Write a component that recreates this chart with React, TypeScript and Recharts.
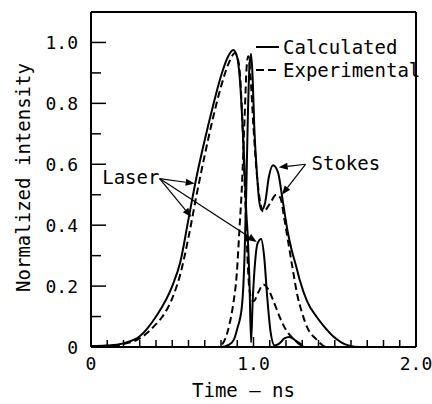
import React from "react";
import {
  LineChart, Line, XAxis, YAxis, ReferenceLine, ReferenceDot, Legend,
} from "recharts";

const FONT = "'DejaVu Sans Mono', monospace";

// time (ns) and normalized intensity
const laserCalcT = [0, 0.1, 0.2, 0.3, 0.4, 0.5, 0.55, 0.6, 0.65, 0.7, 0.75, 0.8, 0.84, 0.876, 0.9, 0.92, 0.935, 0.945, 0.955, 0.966, 0.975, 0.985, 0.995, 1.01, 1.025, 1.047, 1.065, 1.085, 1.105, 1.13, 1.16, 1.19, 1.22, 1.25, 1.28, 1.32, 2.0];
const laserCalcI = [0.003, 0.005, 0.012, 0.035, 0.1, 0.2, 0.28, 0.42, 0.56, 0.68, 0.79, 0.89, 0.95, 0.975, 0.95, 0.85, 0.7, 0.59, 0.45, 0.35, 0.22, 0.015, 0.15, 0.28, 0.34, 0.355, 0.3, 0.16, 0.05, 0.005, 0.012, 0.028, 0.033, 0.025, 0.01, 0, 0];

const laserExpT = [0, 0.1, 0.2, 0.3, 0.4, 0.44, 0.5, 0.55, 0.6, 0.65, 0.7, 0.75, 0.8, 0.85, 0.885, 0.91, 0.925, 0.94, 0.955, 0.97, 0.985, 1.0, 1.03, 1.06, 1.09, 1.12, 1.16, 1.2, 1.24, 1.28, 1.33, 2.0];
const laserExpI = [0.003, 0.004, 0.01, 0.028, 0.075, 0.1, 0.16, 0.24, 0.36, 0.5, 0.63, 0.75, 0.855, 0.935, 0.965, 0.93, 0.82, 0.62, 0.4, 0.22, 0.16, 0.15, 0.18, 0.205, 0.19, 0.155, 0.1, 0.056, 0.03, 0.014, 0, 0];

const stokesCalcT = [0, 0.8, 0.85, 0.88, 0.9, 0.928, 0.945, 0.955, 0.965, 0.975, 0.985, 0.995, 1.005, 1.02, 1.035, 1.05, 1.07, 1.095, 1.12, 1.15, 1.18, 1.21, 1.234, 1.26, 1.284, 1.33, 1.387, 1.43, 1.49, 1.54, 1.59, 1.65, 2.0];
const stokesCalcI = [0, 0, 0.008, 0.025, 0.06, 0.13, 0.3, 0.5, 0.75, 0.92, 0.963, 0.88, 0.72, 0.58, 0.48, 0.45, 0.47, 0.56, 0.597, 0.575, 0.48, 0.38, 0.32, 0.27, 0.221, 0.15, 0.1, 0.07, 0.035, 0.015, 0.004, 0, 0];

const stokesExpT = [0, 0.78, 0.82, 0.85, 0.875, 0.897, 0.915, 0.928, 0.945, 0.958, 0.968, 0.98, 1.0, 1.02, 1.04, 1.06, 1.1, 1.14, 1.165, 1.19, 1.215, 1.24, 1.27, 1.3, 1.33, 1.387, 1.45, 2.0];
const stokesExpI = [0, 0, 0.02, 0.07, 0.14, 0.24, 0.4, 0.52, 0.75, 0.92, 0.955, 0.9, 0.72, 0.57, 0.48, 0.444, 0.47, 0.5, 0.49, 0.42, 0.34, 0.26, 0.17, 0.11, 0.065, 0.025, 0, 0];

const xTicks = [0, 0.1, 0.2, 0.3, 0.4, 0.5, 0.6, 0.7, 0.8, 0.9, 1.0, 1.1, 1.2, 1.3, 1.4, 1.5, 1.6, 1.7, 1.8, 1.9, 2.0];
const yTicks = [0, 0.1, 0.2, 0.3, 0.4, 0.5, 0.6, 0.7, 0.8, 0.9, 1.0];

const legendItems = [
  { label: "Calculated", dash: undefined as string | undefined },
  { label: "Experimental", dash: "8 4" },
];

// annotation labels and arrows, in data units
const notes = [
  { text: "Laser", t: 0.069, v: 0.556 },
  { text: "Stokes", t: 1.357, v: 0.603 },
];
const arrows = [
  { from: [0.422, 0.553], to: [0.638, 0.537] },
  { from: [0.422, 0.553], to: [0.617, 0.427] },
  { from: [0.422, 0.553], to: [1.02, 0.345] },
  { from: [1.32, 0.6], to: [1.155, 0.59] },
  { from: [1.32, 0.6], to: [1.175, 0.5] },
];

const zip = (t: number[], v: number[]) => t.map((x, i) => ({ t: x, v: v[i] }));

const series = [
  { key: "lc", data: zip(laserCalcT, laserCalcI), dash: undefined },
  { key: "le", data: zip(laserExpT, laserExpI), dash: "7 4" },
  { key: "sc", data: zip(stokesCalcT, stokesCalcI), dash: undefined },
  { key: "se", data: zip(stokesExpT, stokesExpI), dash: "7 4" },
];

const isWhole = (v: number) => Math.abs(v - Math.round(v)) < 1e-6;
const isEvenTenth = (v: number) => Math.round(v * 10) % 2 === 0;

function BottomTick({ x, y, payload }: any) {
  const v = payload.value;
  const len = isWhole(v) ? 10 : 7;
  return (
    <g>
      <line x1={x} y1={y} x2={x} y2={y - len} stroke="#000" strokeWidth={1.5} />
      {isWhole(v) && (
        <text x={x} y={y + 23} textAnchor="middle" fontSize={18} fontFamily={FONT} fill="#000">
          {v === 0 ? "0" : v.toFixed(1)}
        </text>
      )}
    </g>
  );
}

function TopTick({ x, y, payload }: any) {
  const len = isWhole(payload.value) ? 10 : 7;
  return <line x1={x} y1={y} x2={x} y2={y + len} stroke="#000" strokeWidth={1.5} />;
}

function LeftTick({ x, y, payload }: any) {
  const v = payload.value;
  const major = isEvenTenth(v);
  return (
    <g>
      <line x1={x} y1={y} x2={x + (major ? 15 : 10)} y2={y} stroke="#000" strokeWidth={1.5} />
      {major && (
        <text x={x - 13} y={y + 7} textAnchor="end" fontSize={18} fontFamily={FONT} fill="#000">
          {v === 0 ? "0" : v.toFixed(1)}
        </text>
      )}
    </g>
  );
}

function RightTick({ x, y, payload }: any) {
  const major = isEvenTenth(payload.value);
  return <line x1={x} y1={y} x2={x - (major ? 14 : 10)} y2={y} stroke="#000" strokeWidth={1.5} />;
}

function XTitle({ viewBox }: any) {
  return (
    <text x={viewBox.x + viewBox.width / 2 - 10} y={viewBox.y + viewBox.height - 7}
      textAnchor="middle" fontSize={19} fontFamily={FONT} fill="#000">
      Time — ns
    </text>
  );
}

function YTitle({ viewBox }: any) {
  const cx = viewBox.x + 23;
  const cy = viewBox.y + viewBox.height / 2 - 2;
  return (
    <text x={cx} y={cy} transform={`rotate(-90, ${cx}, ${cy})`} textAnchor="middle"
      dominantBaseline="central" fontSize={19} fontFamily={FONT} fill="#000">
      Normalized intensity
    </text>
  );
}

function Arrow(p: any) {
  const { x1, y1, x2, y2 } = p;
  const a = Math.atan2(y2 - y1, x2 - x1);
  const L = 9, W = 3.5;
  const bx = x2 - L * Math.cos(a), by = y2 - L * Math.sin(a);
  const px = -Math.sin(a) * W, py = Math.cos(a) * W;
  return (
    <g>
      <line x1={x1} y1={y1} x2={bx} y2={by} stroke="#000" strokeWidth={1.2} />
      <polygon points={`${x2},${y2} ${bx + px},${by + py} ${bx - px},${by - py}`} fill="#000" />
    </g>
  );
}

function LegendBox() {
  return (
    <svg width={172} height={50}>
      {legendItems.map((it, i) => {
        const cy = 13 + i * 23;
        return (
          <g key={it.label}>
            <line x1={2} y1={cy} x2={25} y2={cy} stroke="#000" strokeWidth={2} strokeDasharray={it.dash} />
            <text x={29} y={cy + 7} fontSize={19} fontFamily={FONT} fill="#000">{it.label}</text>
          </g>
        );
      })}
    </svg>
  );
}

export default function App() {
  return (
    <div style={{ position: "absolute", left: 0, top: 0, width: 432, height: 404, background: "#fff" }}>
      <LineChart width={432} height={404} margin={{ top: 0, right: 0, bottom: 0, left: 0 }}>
        <XAxis dataKey="t" type="number" domain={[0, 2]} ticks={xTicks} interval={0}
          height={57} tickSize={0} tickMargin={0} tickLine={false} tick={<BottomTick />}
          axisLine={{ stroke: "#000", strokeWidth: 2 }} allowDataOverflow label={<XTitle />} />
        <XAxis xAxisId="top" orientation="top" type="number" domain={[0, 2]} ticks={xTicks} interval={0}
          height={12} tickSize={0} tickMargin={0} tickLine={false} tick={<TopTick />}
          axisLine={{ stroke: "#000", strokeWidth: 2 }} />
        <YAxis type="number" domain={[0, 1.1]} ticks={yTicks} interval={0} width={91}
          tickSize={0} tickMargin={0} tickLine={false} tick={<LeftTick />}
          axisLine={{ stroke: "#000", strokeWidth: 2 }} allowDataOverflow label={<YTitle />} />
        <YAxis yAxisId="right" orientation="right" type="number" domain={[0, 1.1]} ticks={yTicks} interval={0}
          width={16} tickSize={0} tickMargin={0} tickLine={false} tick={<RightTick />}
          axisLine={{ stroke: "#000", strokeWidth: 2 }} />
        {series.map((s) => (
          <Line key={s.key} data={s.data} dataKey="v" type="monotone" stroke="#000" strokeWidth={2}
            strokeDasharray={s.dash} dot={false} activeDot={false} isAnimationActive={false} />
        ))}
        {arrows.map((a, i) => (
          <ReferenceLine key={i} segment={[{ x: a.from[0], y: a.from[1] }, { x: a.to[0], y: a.to[1] }]}
            shape={Arrow} />
        ))}
        {notes.map((n) => (
          <ReferenceDot key={n.text} x={n.t} y={n.v} r={0} stroke="none" fill="none"
            label={{ value: n.text, position: "right", offset: 0, fontSize: 19, fontFamily: FONT, fill: "#000" }} />
        ))}
        <Legend layout="vertical" align="center" verticalAlign="middle" content={<LegendBox />}
          wrapperStyle={{ left: 254, top: 34, width: 172, height: 50 }} />
      </LineChart>
    </div>
  );
}
